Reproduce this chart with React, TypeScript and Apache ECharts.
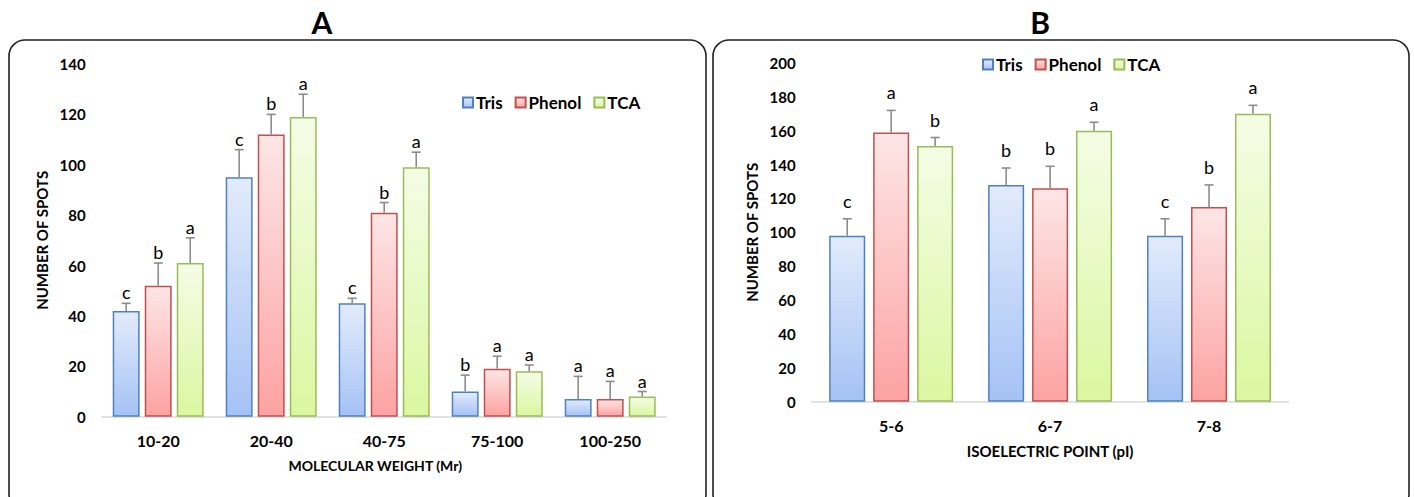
import React, { useEffect, useRef } from "react";
import * as echarts from "echarts";

const seriesNames = ["Tris", "Phenol", "TCA"];

// Panel A
const catsA = ["10-20", "20-40", "40-75", "75-100", "100-250"];
const trisA = [42, 95, 45, 10, 7];
const phenolA = [52, 112, 81, 19, 7];
const tcaA = [61, 119, 99, 18, 8];
const trisErrA = [3, 11, 2, 6.5, 9];
const phenolErrA = [9, 8, 4, 5, 7];
const tcaErrA = [10, 9, 6, 2.5, 2];
const trisLetA = ["c", "c", "c", "b", "a"];
const phenolLetA = ["b", "b", "b", "a", "a"];
const tcaLetA = ["a", "a", "a", "a", "a"];

// Panel B
const catsB = ["5-6", "6-7", "7-8"];
const trisB = [98, 128, 98];
const phenolB = [159, 126, 115];
const tcaB = [151, 160, 170];
const trisErrB = [10, 10, 10];
const phenolErrB = [13, 13, 13];
const tcaErrB = [5, 5, 5];
const trisLetB = ["c", "b", "c"];
const phenolLetB = ["a", "b", "b"];
const tcaLetB = ["b", "a", "a"];

const FONT = "Lato, 'Open Sans', sans-serif";

const borderColors = ["#4F81BD", "#C0504D", "#9BBB59"];
const gradTop = ["#E2EBFB", "#FDE6E6", "#F5FCE6"];
const gradBottom = ["#A5C2F5", "#FCA3A2", "#DAF7A0"];

function grad(i: number) {
  return new echarts.graphic.LinearGradient(0, 0, 0, 1, [
    { offset: 0, color: gradTop[i] },
    { offset: 1, color: gradBottom[i] },
  ]);
}

export default function App() {
  const ref = useRef<HTMLDivElement>(null);
  useEffect(() => {
    document.body.style.margin = "0";
    const chart = echarts.init(ref.current!, null, { renderer: "svg" });

    const panels = [
      {
        vals: [trisA, phenolA, tcaA],
        errs: [trisErrA, phenolErrA, tcaErrA],
        lets: [trisLetA, phenolLetA, tcaLetA],
        catGap: 0.195,
        barGap: 0.19,
        letGap: 2,
      },
      {
        vals: [trisB, phenolB, tcaB],
        errs: [trisErrB, phenolErrB, tcaErrB],
        lets: [trisLetB, phenolLetB, tcaLetB],
        catGap: 0.22,
        barGap: 0.22,
        letGap: 9,
      },
    ];

    const series: any[] = [];
    panels.forEach((p, pi) => {
      p.vals.forEach((vals, si) => {
        series.push({
          type: "bar",
          name: seriesNames[si],
          xAxisIndex: pi,
          yAxisIndex: pi,
          data: vals,
          barGap: (p.barGap * 100).toFixed(1) + "%",
          barCategoryGap: (p.catGap * 100).toFixed(1) + "%",
          itemStyle: { color: grad(si), borderColor: borderColors[si], borderWidth: 1.5 },
        });
      });
      p.vals.forEach((vals, si) => {
        series.push({
          type: "custom",
          name: "err" + pi + si,
          xAxisIndex: pi,
          yAxisIndex: pi,
          z: 5,
          encode: { x: 0, y: 1 },
          data: vals.map((v, i) => [i, v, p.errs[si][i]]),
          renderItem: (params: any, api: any) => {
            const cat = api.value(0);
            const v = api.value(1);
            const e = api.value(2);
            const base = api.coord([cat, v]);
            const top = api.coord([cat, v + e]);
            const catW = api.size([1, 0])[0];
            const barW = (catW * (1 - p.catGap)) / (3 + 2 * p.barGap);
            const x = base[0] + (si - 1) * barW * (1 + p.barGap);
            const st = { stroke: "#8C8C8C", lineWidth: 1.6 };
            return {
              type: "group",
              children: [
                { type: "line", shape: { x1: x, y1: base[1], x2: x, y2: top[1] }, style: st },
                { type: "line", shape: { x1: x - 4.5, y1: top[1], x2: x + 4.5, y2: top[1] }, style: st },
                {
                  type: "text",
                  x: x,
                  y: top[1] - p.letGap,
                  style: {
                    text: p.lets[si][params.dataIndex],
                    fontFamily: FONT,
                    fontSize: 18,
                    fill: "#000",
                    align: "center",
                    verticalAlign: "bottom",
                  },
                },
              ],
            };
          },
        });
      });
    });

    const tickLabel = { color: "#000", fontFamily: FONT, fontWeight: "bold", fontSize: 15 };
    const catLabel = { color: "#000", fontFamily: FONT, fontWeight: "bold", fontSize: 16 };
    const nameStyle = { color: "#000", fontFamily: FONT, fontWeight: "bold", fontSize: 15 };

    const legendCommon = {
      data: seriesNames,
      icon: "rect",
      itemWidth: 10,
      itemHeight: 10,
      itemGap: 12,
      textStyle: { color: "#000", fontFamily: FONT, fontWeight: "bold", fontSize: 17, padding: [0, 0, 0, -2] },
    };

    chart.setOption({
      animation: false,
      graphic: [
        {
          type: "rect",
          shape: { x: 9, y: 40, width: 697, height: 470, r: 16 },
          style: { fill: "none", stroke: "#222", lineWidth: 1.6 },
        },
        {
          type: "rect",
          shape: { x: 713, y: 40, width: 696, height: 470, r: 16 },
          style: { fill: "none", stroke: "#222", lineWidth: 1.6 },
        },
        {
          type: "text",
          x: 322,
          y: 22,
          style: { text: "A", fontFamily: FONT, fontWeight: "bold", fontSize: 30, fill: "#000", align: "center", verticalAlign: "middle" },
        },
        {
          type: "text",
          x: 1040,
          y: 22,
          style: { text: "B", fontFamily: FONT, fontWeight: "bold", fontSize: 30, fill: "#000", align: "center", verticalAlign: "middle" },
        },
      ],
      legend: [
        { ...legendCommon, left: 457, top: 89 },
        { ...legendCommon, left: 977, top: 51 },
      ],
      grid: [
        { left: 101.7, top: 64, width: 565, height: 352.7 },
        { left: 811.7, top: 63, width: 476.8, height: 338.7 },
      ],
      xAxis: [
        {
          type: "category",
          gridIndex: 0,
          data: catsA,
          axisLine: { lineStyle: { color: "#D9D9D9", width: 1.5 } },
          axisTick: { show: false },
          axisLabel: { ...catLabel, margin: 16 },
          name: "MOLECULAR WEIGHT (Mr)",
          nameLocation: "middle",
          nameGap: 42,
          nameTextStyle: { ...nameStyle, fontSize: 14, padding: [0, 18, 0, 0] },
        },
        {
          type: "category",
          gridIndex: 1,
          data: catsB,
          axisLine: { lineStyle: { color: "#D9D9D9", width: 1.5 } },
          axisTick: { show: false },
          axisLabel: { ...catLabel, margin: 16 },
          name: "ISOELECTRIC POINT (pI)",
          nameLocation: "middle",
          nameGap: 42,
          nameTextStyle: nameStyle,
        },
      ],
      yAxis: [
        {
          type: "value",
          gridIndex: 0,
          min: 0,
          max: 140,
          interval: 20,
          axisLine: { show: false },
          axisTick: { show: false },
          splitLine: { show: false },
          axisLabel: { ...tickLabel, margin: 16 },
          name: "NUMBER OF SPOTS",
          nameLocation: "middle",
          nameRotate: 90,
          nameGap: 52,
          nameTextStyle: nameStyle,
        },
        {
          type: "value",
          gridIndex: 1,
          min: 0,
          max: 200,
          interval: 20,
          axisLine: { show: false },
          axisTick: { show: false },
          splitLine: { show: false },
          axisLabel: { ...tickLabel, margin: 16 },
          name: "NUMBER OF SPOTS",
          nameLocation: "middle",
          nameRotate: 90,
          nameGap: 52,
          nameTextStyle: nameStyle,
        },
      ],
      series,
    });
    return () => chart.dispose();
  }, []);
  return <div ref={ref} style={{ width: 1414, height: 497 }} />;
}
